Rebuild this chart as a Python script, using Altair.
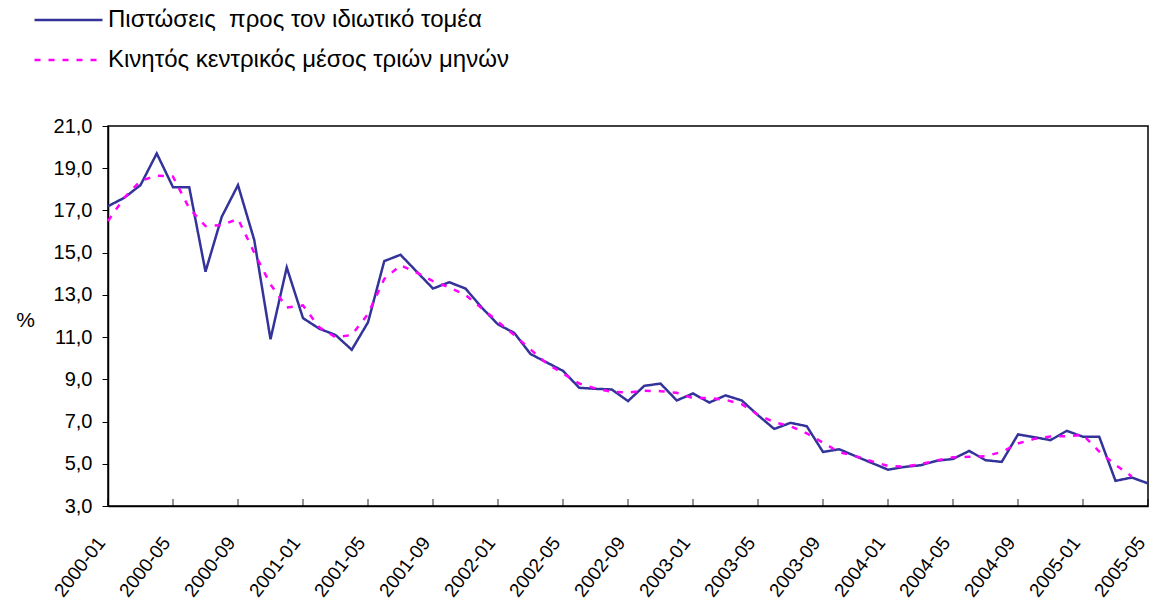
import altair as alt
import pandas as pd

months = [f"{y}-{m:02d}" for y in range(2000, 2006) for m in range(1, 13)][:65]
tick_labels = months[::4]

credit = [17.2, 17.6, 18.2, 19.7, 18.1, 18.1, 14.1, 16.7, 18.2, 15.6,
          10.9, 14.3, 11.9, 11.4, 11.1, 10.4, 11.7, 14.6, 14.9, 14.1,
          13.3, 13.6, 13.3, 12.4, 11.6, 11.2, 10.2, 9.8, 9.4, 8.6,
          8.55, 8.52, 7.97, 8.69, 8.8, 8.0, 8.33, 7.9, 8.24, 8.0,
          7.3, 6.65, 6.94, 6.78, 5.56, 5.69, 5.36, 5.04, 4.72, 4.85,
          4.93, 5.14, 5.23, 5.61, 5.17, 5.09, 6.39, 6.26, 6.12, 6.56,
          6.28, 6.28, 4.19, 4.35, 4.07]

moving_avg = [16.5, 17.6, 18.4, 18.65, 18.6, 17.1, 16.26, 16.3, 16.6, 15.0,
              13.5, 12.4, 12.5, 11.46, 11.0, 11.1, 12.1, 13.75, 14.4, 14.05,
              13.65, 13.35, 13.0, 12.36, 11.73, 11.1, 10.42, 9.75, 9.28, 8.8,
              8.57, 8.41, 8.37, 8.46, 8.44, 8.36, 8.11, 8.11, 8.03, 7.82,
              7.32, 6.97, 6.78, 6.44, 6.0, 5.55, 5.36, 5.12, 4.9, 4.87,
              4.98, 5.16, 5.31, 5.33, 5.36, 5.56, 5.96, 6.18, 6.29, 6.31,
              6.36, 5.58, 4.95, 4.4]

S1 = "Πιστώσεις\u00a0 προς τον ιδιωτικό τομέα"
S2 = "Κινητός κεντρικός μέσος τριών μηνών"

rows = []
for m, v in zip(months, credit):
    rows.append({"month": m, "value": v, "series": S1})
for m, v in zip(months, moving_avg):
    rows.append({"month": m, "value": v, "series": S2})
df = pd.DataFrame(rows)
ticks_df = pd.DataFrame({"month": tick_labels})

FONT = "Liberation Sans"

legend = alt.Legend(
    orient="none", legendX=-75, legendY=-119, direction="vertical",
    title=None, symbolType="stroke", symbolSize=4624, symbolStrokeWidth=2.5,
    labelFont=FONT, labelFontSize=24, labelColor="black", labelOffset=4,
    labelLimit=0, padding=0, rowPadding=14, clipHeight=26,
)

xscale = alt.Scale(domain=months, type="point", padding=0)
yscale = alt.Scale(domain=[3, 21], nice=False, zero=False)

lines = alt.Chart(df).mark_line(strokeWidth=2.5).encode(
    x=alt.X("month:N", scale=xscale, axis=alt.Axis(
        values=tick_labels, labelAngle=308, labelAlign="right",
        labelBaseline="middle", labelPadding=33, labelOffset=-7, labelFontSize=19,
        tickSize=0, title=None, domainWidth=1.5)),
    y=alt.Y("value:Q", scale=yscale, axis=alt.Axis(
        values=[3, 5, 7, 9, 11, 13, 15, 17, 19, 21],
        labelExpr="replace(format(datum.value, '.1f'), '.', ',')",
        labelFontSize=20, tickSize=6, labelPadding=10, domainWidth=1.5,
        title="%", titleAngle=0, titleX=-83, titleY=194, titleAlign="center",
        titleBaseline="middle", titleFontSize=21, titleFontWeight="normal")),
    color=alt.Color("series:N", scale=alt.Scale(domain=[S1, S2], range=["#333399", "#FF00FF"]), legend=legend),
    strokeDash=alt.StrokeDash("series:N", scale=alt.Scale(domain=[S1, S2], range=[[1, 0], [6, 8]]), legend=legend),
)

inner_ticks = alt.Chart(ticks_df).mark_tick(orient="vertical", size=7, thickness=1.2, color="black", yOffset=-3.5).encode(
    x=alt.X("month:N", scale=xscale),
    y=alt.datum(3),
)

chart = alt.layer(lines, inner_ticks).properties(
    width=1040, height=380,
    autosize=alt.AutoSizeParams(type="none"),
    padding={"left": 100, "top": 118, "right": 1, "bottom": 96},
).configure_view(stroke="black", strokeWidth=1.5).configure_axis(
    domainColor="black", tickColor="black", labelColor="black", titleColor="black",
    grid=False, labelFont=FONT, titleFont=FONT,
)

chart.save("out.html", embed_options={"renderer": "svg", "actions": False})
